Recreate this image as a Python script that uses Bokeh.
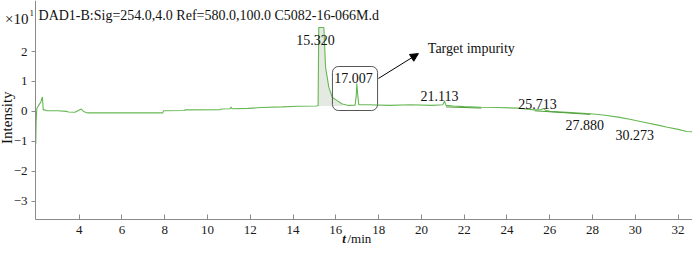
from bokeh.plotting import figure
from bokeh.models import Label, Arrow, NormalHead, Range1d, FixedTicker, ColumnDataSource
from bokeh.core.properties import value
from bokeh.embed import file_html
from bokeh.resources import INLINE
import math

# ---- data ----
time_min = [1.96, 1.97, 1.99, 2.02, 2.10, 2.20, 2.28, 2.32, 2.40, 2.50, 3.00, 3.40, 3.50, 3.80,
            4.10, 4.20, 4.40, 6.00, 7.90, 7.95, 8.90, 8.95, 10.60, 10.65, 11.05, 11.10, 11.15,
            11.90, 12.50, 13.50, 14.20, 15.10, 15.17, 15.20, 15.44, 15.52, 15.67, 15.83, 16.06,
            16.30, 16.60, 16.90, 16.95, 16.98, 17.03, 17.07, 17.50, 18.50, 19.50, 20.50, 21.00,
            21.08, 21.15, 21.50, 22.00, 22.80, 23.50, 24.50, 25.30, 25.60, 25.70, 25.80, 26.00,
            27.00, 27.90, 28.50, 29.20, 29.80, 30.40, 31.00, 31.50, 32.00, 32.40, 33.00]
intensity = [0.00, -1.10, -0.30, 0.10, 0.20, 0.30, 0.48, 0.05, 0.05, 0.02, 0.02, 0.00, -0.02, -0.03,
             0.08, 0.00, -0.05, -0.05, -0.05, 0.02, 0.03, 0.05, 0.06, 0.08, 0.09, 0.15, 0.09,
             0.10, 0.13, 0.15, 0.17, 0.18, 0.20, 2.80, 2.80, 1.47, 0.81, 0.47, 0.36,
             0.25, 0.20, 0.21, 0.50, 0.93, 0.50, 0.22, 0.22, 0.20, 0.22, 0.20, 0.22,
             0.34, 0.20, 0.18, 0.16, 0.14, 0.13, 0.11, 0.05, 0.06, 0.10, 0.04, 0.00,
             -0.04, -0.08, -0.12, -0.19, -0.27, -0.36, -0.45, -0.53, -0.60, -0.67, -0.69]

main_peak_start = 15.10
main_peak_end = 16.30
main_peak_base = 0.18

# integration baselines drawn under the small peaks
base1_t = [21.15, 22.80]
base1_v = [0.15, 0.11]
base2_t = [25.30, 27.90]
base2_v = [0.02, -0.10]

peak_labels = ["15.320", "17.007", "21.113", "25.713", "27.880", "30.273"]
peak_label_x = [15.05, 16.83, 20.85, 25.43, 27.63, 29.97]
peak_label_y = [2.37, 1.13, 0.53, 0.26, -0.47, -0.80]

x_ticks = [4, 6, 8, 10, 12, 14, 16, 18, 20, 22, 24, 26, 28, 30, 32]
y_ticks = [-3, -2, -1, 0, 1, 2]

title_text = "DAD1-B:Sig=254.0,4.0 Ref=580.0,100.0 C5082-16-066M.d"

FONT = "Liberation Serif"
LINE = "#66b852"
DARK = "#4f9f3c"
TXT = "#111111"

# axes sit at fixed data positions, the frame covers the whole canvas
X_LO, X_HI = 0.322, 32.673
Y_LO, Y_HI = -4.579, 3.704
X_AXIS_AT = -3.611
Y_AXIS_AT = 1.958

p = figure(width=692, height=248, output_backend="svg", toolbar_location=None,
           x_range=Range1d(X_LO, X_HI), y_range=Range1d(Y_LO, Y_HI),
           min_border_left=0, min_border_right=0, min_border_top=0, min_border_bottom=0)
p.outline_line_color = None
p.xgrid.visible = False
p.ygrid.visible = False
p.background_fill_color = "white"

for ax in (p.xaxis[0], p.yaxis[0]):
    ax.axis_line_color = "#8a8a8a"
    ax.major_tick_line_color = "#8a8a8a"
    ax.minor_tick_line_color = None
    ax.major_label_text_font = FONT
    ax.major_label_text_font_size = "13px"
    ax.major_label_text_color = "#1a1a1a"

p.xaxis.fixed_location = X_AXIS_AT
p.xaxis.bounds = (Y_AXIS_AT, X_HI)
p.xaxis.ticker = FixedTicker(ticks=x_ticks)
p.xaxis.major_tick_in = 5
p.xaxis.major_tick_out = 0
p.xaxis.major_label_standoff = 6

p.yaxis.fixed_location = Y_AXIS_AT
p.yaxis.bounds = (X_AXIS_AT, Y_HI)
p.yaxis.ticker = FixedTicker(ticks=y_ticks)
p.yaxis.major_tick_in = 0
p.yaxis.major_tick_out = 4
p.yaxis.major_label_standoff = 4

# main peak shaded area
pk_t = [t for t in time_min if main_peak_start <= t <= main_peak_end]
pk_v = [v for t, v in zip(time_min, intensity) if main_peak_start <= t <= main_peak_end]
p.varea(x=pk_t, y1=main_peak_base, y2=pk_v, fill_color="#e4e9e1", fill_alpha=1.0)

p.line(time_min, intensity, line_color=LINE, line_width=1.1)
p.line(base1_t, base1_v, line_color=DARK, line_width=1.0)
p.line(base2_t, base2_v, line_color=DARK, line_width=1.0)

src = ColumnDataSource(dict(x=peak_label_x, y=peak_label_y, t=peak_labels))
p.text(x="x", y="y", text="t", source=src, text_font=value(FONT), text_font_size="14px",
       text_align="center", text_baseline="middle", text_color=TXT)

# box around target impurity
p.quad(left=15.84, right=17.95, bottom=0.03, top=1.50, fill_color=None,
       line_color="#555555", line_width=1, border_radius=6)

p.add_layout(Arrow(end=NormalHead(size=8, fill_color="black", line_color="black"),
                   x_start=17.99, y_start=1.10, x_end=19.86, y_end=1.93,
                   line_color="black", line_width=1))
p.add_layout(Label(x=20.30, y=2.10, text="Target impurity", text_font=FONT,
                   text_font_size="14px", text_baseline="middle", text_color=TXT))

p.add_layout(Label(x=2.10, y=3.20, text=title_text, text_font=FONT,
                   text_font_size="14px", text_baseline="middle", text_color=TXT))

# x10^1 multiplier
p.add_layout(Label(x=1.63, y=3.07, text="×10", text_font=FONT, text_font_size="15px",
                   text_align="right", text_baseline="middle", text_color=TXT))
p.add_layout(Label(x=1.68, y=3.27, text="1", text_font=FONT, text_font_size="9px",
                   text_baseline="middle", text_color=TXT))

# axis titles
p.add_layout(Label(x=0.62, y=-0.21, text="Intensity", text_font=FONT, text_font_size="15px",
                   text_align="center", text_baseline="middle", angle=math.pi / 2,
                   text_color=TXT))
p.add_layout(Label(x=16.38, y=-4.26, text="t", text_font=FONT, text_font_size="13px",
                   text_font_style="bold italic", text_align="center", text_baseline="middle",
                   text_color=TXT))
p.add_layout(Label(x=16.54, y=-4.26, text="/min", text_font=FONT, text_font_size="13px",
                   text_baseline="middle", text_color=TXT))

open("out.html", "w").write(file_html(p, INLINE))
